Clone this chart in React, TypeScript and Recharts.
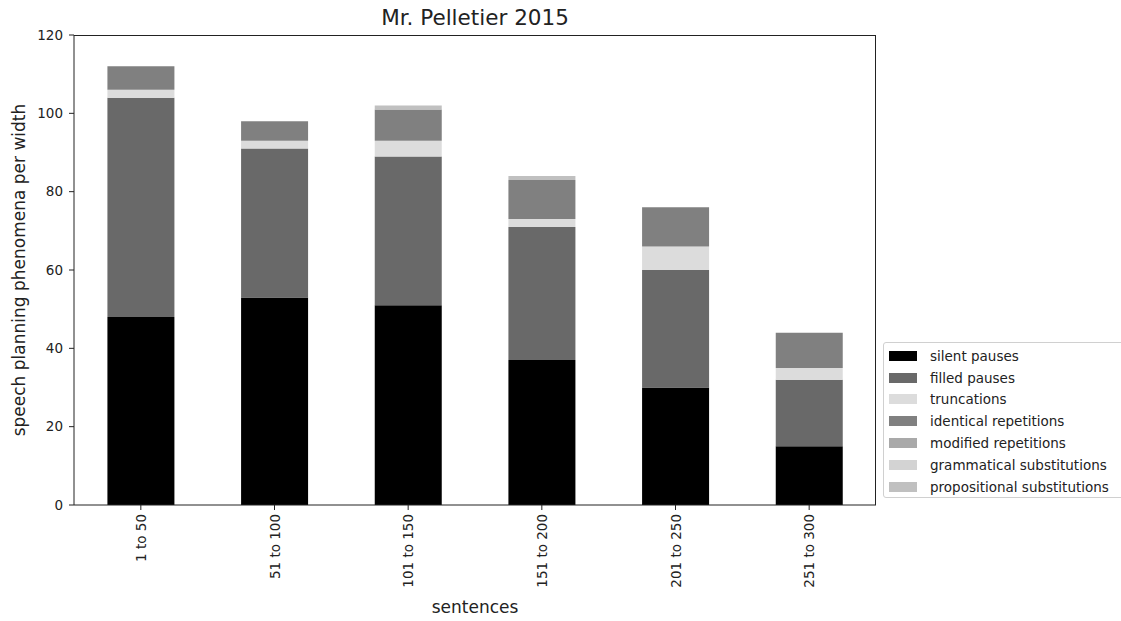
import { BarChart, Bar, XAxis, YAxis, Label } from "recharts"

const categories = ["1 to 50", "51 to 100", "101 to 150", "151 to 200", "201 to 250", "251 to 300"]
const silentPauses = [48, 53, 51, 37, 30, 15]
const filledPauses = [56, 38, 38, 34, 30, 17]
const truncations = [2, 2, 4, 2, 6, 3]
const identicalRepetitions = [6, 5, 8, 10, 10, 9]
const modifiedRepetitions = [0, 0, 0, 0, 0, 0]
const grammaticalSubstitutions = [0, 0, 0, 0, 0, 0]
const propositionalSubstitutions = [0, 0, 1, 1, 0, 0]
const yTicks = [0, 20, 40, 60, 80, 100, 120]

const series = [
  { key: "silent", name: "silent pauses", values: silentPauses, color: "#000000" },
  { key: "filled", name: "filled pauses", values: filledPauses, color: "#696969" },
  { key: "trunc", name: "truncations", values: truncations, color: "#dcdcdc" },
  { key: "ident", name: "identical repetitions", values: identicalRepetitions, color: "#808080" },
  { key: "modif", name: "modified repetitions", values: modifiedRepetitions, color: "#a9a9a9" },
  { key: "gramm", name: "grammatical substitutions", values: grammaticalSubstitutions, color: "#d3d3d3" },
  { key: "propo", name: "propositional substitutions", values: propositionalSubstitutions, color: "#c0c0c0" },
]

const data = categories.map((c, i) => {
  const row: Record<string, string | number> = { sentences: c }
  series.forEach((s) => { row[s.key] = s.values[i] })
  return row
})

const font = "'DejaVu Sans', sans-serif"
const ink = "#222"

// plot box (matches the margins / axis sizes below)
const plot = { left: 74, top: 35, right: 876, bottom: 505 }

function XTick(props: any) {
  const { x, y, payload } = props
  return (
    <text
      transform={`translate(${x}, ${y + 2}) rotate(-90)`}
      textAnchor="end"
      dominantBaseline="central"
      fontFamily={font}
      fontSize={13.5}
      fill={ink}
    >
      {payload.value}
    </text>
  )
}

function LegendBox() {
  return (
    <div
      style={{
        position: "absolute",
        left: 883,
        top: 342,
        width: 250,
        height: 156,
        border: "1px solid #d0d0d0",
        borderRadius: 3,
        background: "#fff",
        boxSizing: "border-box",
        paddingTop: 2,
        paddingLeft: 5,
      }}
    >
      {series.map((s) => (
        <div key={s.key} style={{ display: "flex", alignItems: "center", height: 21.8 }}>
          <div style={{ width: 28, height: 10, background: s.color, marginRight: 13 }} />
          <span style={{ fontFamily: font, fontSize: 13.5, color: ink, whiteSpace: "nowrap" }}>{s.name}</span>
        </div>
      ))}
    </div>
  )
}

export default function App() {
  return (
    <div style={{ position: "absolute", left: 0, top: 0, width: 1121, height: 621, background: "#fff", overflow: "hidden" }}>
      <div
        style={{
          position: "absolute",
          left: plot.left,
          width: plot.right - plot.left,
          top: 5,
          textAlign: "center",
          fontFamily: font,
          fontSize: 21.5,
          color: ink,
        }}
      >
        Mr. Pelletier 2015
      </div>
      <BarChart
        width={1121}
        height={621}
        data={data}
        margin={{ top: plot.top, right: 1121 - plot.right, left: 0, bottom: 0 }}
        barCategoryGap="25%"
      >
        <XAxis
          dataKey="sentences"
          height={621 - plot.bottom}
          tickSize={5}
          tickLine={{ stroke: ink }}
          axisLine={{ stroke: ink }}
          tick={<XTick />}
          interval={0}
        >
          <Label
            content={(p: any) => {
              const vb = p.viewBox
              return (
                <text x={vb.x + vb.width / 2} y={vb.y + 102} textAnchor="middle" dominantBaseline="central" fontFamily={font} fontSize={17} fill={ink}>
                  sentences
                </text>
              )
            }}
          />
        </XAxis>
        <YAxis
          width={plot.left}
          domain={[0, 120]}
          ticks={yTicks}
          tickSize={5}
          tickMargin={6}
          tickLine={{ stroke: ink }}
          axisLine={{ stroke: ink }}
          tick={{ fontFamily: font, fontSize: 13.5, fill: ink }}
        >
          <Label
            content={(p: any) => {
              const vb = p.viewBox
              const cy = vb.y + vb.height / 2
              return (
                <text x={19} y={cy} transform={`rotate(-90, 19, ${cy})`} textAnchor="middle" dominantBaseline="central" fontFamily={font} fontSize={17} fill={ink}>
                  speech planning phenomena per width
                </text>
              )
            }}
          />
        </YAxis>
        {series.map((s) => (
          <Bar key={s.key} dataKey={s.key} name={s.name} stackId="a" fill={s.color} isAnimationActive={false} />
        ))}
      </BarChart>
      {/* top and right spines */}
      <div
        style={{
          position: "absolute",
          left: plot.left,
          top: plot.top,
          width: plot.right - plot.left,
          height: plot.bottom - plot.top,
          borderTop: `1px solid ${ink}`,
          borderRight: `1px solid ${ink}`,
          boxSizing: "border-box",
          pointerEvents: "none",
        }}
      />
      <LegendBox />
    </div>
  )
}
